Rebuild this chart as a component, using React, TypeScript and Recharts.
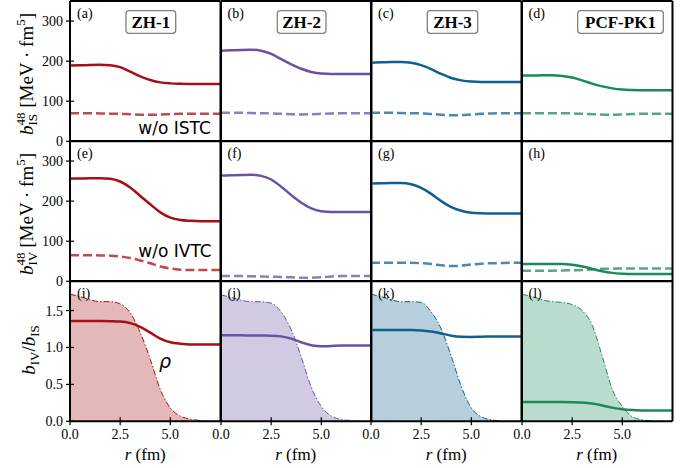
import React from 'react';
import { ComposedChart, Line, Area, XAxis, YAxis } from 'recharts';

// radial grid (fm)
const R = [0, 0.5, 1, 1.5, 2, 2.5, 3, 3.5, 4, 4.5, 5, 5.5, 6, 6.5, 7, 7.5];

// isoscalar b^48_IS (MeV fm^5): full and without ISTC
const IS_ZH1 = [189, 189.5, 190.5, 191, 190, 185, 174, 162, 153, 147, 144.5, 143.5, 143, 143, 143, 143];
const IS_ZH2 = [226, 227, 228, 228.5, 226, 218, 205, 192, 181, 173, 169, 168, 168, 168, 168, 168];
const IS_ZH3 = [196, 197, 198, 198, 196, 190, 180, 168, 158, 152, 149, 148, 148, 148, 148, 148];
const IS_PK1 = [164, 164, 164.5, 164.5, 163, 159, 152, 144, 137, 132, 129, 128, 127.5, 127.5, 127.5, 127.5];
const IS_ZH1_NOTC = [70, 70, 70, 69.5, 69, 68.5, 67.5, 66.5, 66, 66.5, 67.5, 68.5, 69, 69, 69, 69];
const IS_ZH2_NOTC = [71, 71, 71, 70.5, 70, 69.5, 68.5, 67.5, 67, 67.5, 68.5, 69.5, 70, 70, 70, 70];
const IS_ZH3_NOTC = [71, 71, 71, 70.5, 70, 69.5, 68, 66.5, 65, 65.5, 67, 68.5, 69.5, 70, 70, 70];
const IS_PK1_NOTC = [70, 70, 70, 70, 70, 69.5, 68.5, 67.5, 66.5, 66, 67, 68, 69, 69, 69, 69];

// isovector b^48_IV (MeV fm^5): full and without IVTC
const IV_ZH1 = [256, 256.5, 257, 257, 256, 249, 234, 213, 192, 172, 159, 153, 151, 150, 150, 150];
const IV_ZH2 = [264, 264.5, 265, 266, 263, 254, 236, 215, 196, 182, 175, 173, 173, 173, 173, 173];
const IV_ZH3 = [244, 244.5, 245, 245, 242, 233, 218, 200, 185, 176, 171, 169.5, 169, 169, 169, 169];
const IV_PK1 = [43, 43, 43, 43, 43, 41, 37, 31, 25, 21, 19, 18, 18, 18, 18, 18];
const IV_ZH1_NOTC = [65, 65, 65, 64.5, 64, 62, 58, 52, 45, 37, 32, 29, 28, 28, 28, 28];
const IV_ZH2_NOTC = [13, 13, 13, 12.5, 12, 11.5, 11, 10, 9, 9, 10, 12, 13, 13, 13, 13];
const IV_ZH3_NOTC = [46, 46, 46, 46, 46, 45, 43, 40, 38, 39, 42, 44, 45, 45.5, 46, 46];
const IV_PK1_NOTC = [26, 26, 26.5, 26.5, 27, 27.5, 28, 29.5, 31, 31.5, 32, 32, 32, 32, 32, 32];

// ratio b_IV / b_IS
const RATIO_ZH1 = [1.36, 1.36, 1.36, 1.358, 1.355, 1.35, 1.33, 1.28, 1.2, 1.12, 1.07, 1.05, 1.04, 1.04, 1.04, 1.04];
const RATIO_ZH2 = [1.166, 1.165, 1.164, 1.163, 1.162, 1.16, 1.15, 1.12, 1.07, 1.03, 1.015, 1.02, 1.025, 1.025, 1.025, 1.025];
const RATIO_ZH3 = [1.236, 1.236, 1.236, 1.236, 1.235, 1.23, 1.215, 1.19, 1.16, 1.145, 1.143, 1.146, 1.148, 1.15, 1.15, 1.15];
const RATIO_PK1 = [0.26, 0.26, 0.26, 0.26, 0.26, 0.258, 0.253, 0.24, 0.215, 0.185, 0.163, 0.152, 0.147, 0.145, 0.145, 0.145];

// scaled density rho
const RHO_ZH1 = [1.72, 1.69, 1.645, 1.62, 1.62, 1.59, 1.47, 1.2, 0.84, 0.43, 0.18, 0.07, 0.03, 0.01, 0, 0];
const RHO_ZH2 = [1.71, 1.68, 1.64, 1.62, 1.62, 1.6, 1.48, 1.24, 0.87, 0.46, 0.2, 0.07, 0.025, 0.01, 0, 0];
const RHO_ZH3 = [1.72, 1.69, 1.645, 1.62, 1.62, 1.61, 1.48, 1.25, 0.88, 0.47, 0.18, 0.06, 0.02, 0.005, 0, 0];
const RHO_PK1 = [1.72, 1.69, 1.645, 1.62, 1.61, 1.58, 1.5, 1.3, 0.88, 0.43, 0.2, 0.06, 0.02, 0.005, 0, 0];

const MODELS = ['ZH-1', 'ZH-2', 'ZH-3', 'PCF-PK1'];
const LETTERS = [
  ['(a)', '(b)', '(c)', '(d)'],
  ['(e)', '(f)', '(g)', '(h)'],
  ['(i)', '(j)', '(k)', '(l)'],
];
const X_TICKS = [0, 2.5, 5];
const B_TICKS = [0, 100, 200, 300];
const RATIO_TICKS = [0, 0.5, 1, 1.5];

const IS_FULL = [IS_ZH1, IS_ZH2, IS_ZH3, IS_PK1];
const IS_NOTC = [IS_ZH1_NOTC, IS_ZH2_NOTC, IS_ZH3_NOTC, IS_PK1_NOTC];
const IV_FULL = [IV_ZH1, IV_ZH2, IV_ZH3, IV_PK1];
const IV_NOTC = [IV_ZH1_NOTC, IV_ZH2_NOTC, IV_ZH3_NOTC, IV_PK1_NOTC];
const RATIO = [RATIO_ZH1, RATIO_ZH2, RATIO_ZH3, RATIO_PK1];
const RHO = [RHO_ZH1, RHO_ZH2, RHO_ZH3, RHO_PK1];

const COLORS = ['#a50f15', '#6a51a3', '#10608f', '#1b8a58'];

const PX = [70, 220.5, 371, 521.5];
const PY = [0.5, 140.8, 281.1];
const PW = 150.5;
const PH = 140.3;

const SERIF = 'Liberation Serif, Times New Roman, serif';
const SANS = 'DejaVu Sans, sans-serif';

const EPS = 0.01;

function Panel({ row, col }: { row: number; col: number }) {
  const color = COLORS[col];
  const isRatio = row === 2;
  const data = R.map((r, i) =>
    isRatio
      ? { r, a: RHO[col][i], b: RATIO[col][i] }
      : { r, a: (row === 0 ? IS_FULL : IV_FULL)[col][i], b: (row === 0 ? IS_NOTC : IV_NOTC)[col][i] }
  );
  const ml = col === 0 ? 70 : 20;
  const mr = 20;
  const mt = 12;
  const mb = row === 2 ? 46 : 12;
  const W = ml + PW + mr;
  const H = mt + PH + mb;
  const yDomain: [number, number] = isRatio ? [0, 1.9] : [0, 350];
  const yTicks = isRatio ? RATIO_TICKS : B_TICKS;
  const axisLine = { stroke: '#000', strokeWidth: 2 };
  const tickFont = { fill: '#000', fontSize: 14, fontFamily: SERIF };
  const tl = (t: string) => ({ stroke: '#000', strokeWidth: 1.2, transform: t });
  return (
    <div style={{ position: 'absolute', left: PX[col] - ml, top: PY[row] - mt }}>
      <ComposedChart width={W} height={H} data={data} margin={{ top: mt, right: mr, bottom: mb, left: ml }}>
        <XAxis
          xAxisId="b"
          dataKey="r"
          type="number"
          domain={[0, 7.5]}
          allowDataOverflow
          ticks={X_TICKS}
          interval={0}
          orientation="bottom"
          height={EPS}
          tickSize={8}
          tickMargin={0}
          tickLine={tl('translate(0,-4)')}
          axisLine={axisLine}
          tick={isRatio ? tickFont : false}
          tickFormatter={(v: number) => v.toFixed(1)}
        />
        <XAxis
          xAxisId="t"
          dataKey="r"
          type="number"
          domain={[0, 7.5]}
          allowDataOverflow
          ticks={X_TICKS}
          interval={0}
          orientation="top"
          height={EPS}
          tickSize={8}
          tickLine={tl('translate(0,4)')}
          axisLine={axisLine}
          tick={false}
        />
        <YAxis
          yAxisId="l"
          type="number"
          domain={yDomain}
          allowDataOverflow
          ticks={yTicks}
          interval={0}
          orientation="left"
          width={EPS}
          tickSize={8}
          tickMargin={-1}
          tickLine={tl('translate(4,0)')}
          axisLine={axisLine}
          tick={col === 0 ? tickFont : false}
          tickFormatter={(v: number) => (isRatio ? v.toFixed(1) : String(v))}
        />
        <YAxis
          yAxisId="r"
          type="number"
          domain={yDomain}
          allowDataOverflow
          ticks={yTicks}
          interval={0}
          orientation="right"
          width={EPS}
          tickSize={8}
          tickLine={tl('translate(-4,0)')}
          axisLine={axisLine}
          tick={false}
        />
        {isRatio ? (
          <Area
            xAxisId="b"
            yAxisId="l"
            dataKey="a"
            type="monotone"
            stroke={color}
            strokeWidth={1}
            strokeDasharray="6 2 1.5 2"
            fill={color}
            fillOpacity={0.3}
            baseValue={0}
            isAnimationActive={false}
            dot={false}
            activeDot={false}
          />
        ) : (
          <Line
            xAxisId="b"
            yAxisId="l"
            dataKey="a"
            type="monotone"
            stroke={color}
            strokeWidth={2.5}
            dot={false}
            activeDot={false}
            isAnimationActive={false}
          />
        )}
        <Line
          xAxisId="t"
          yAxisId="r"
          dataKey="b"
          type="monotone"
          stroke={color}
          strokeWidth={2.5}
          strokeOpacity={isRatio ? 1 : 0.75}
          strokeDasharray={isRatio ? undefined : '9 4'}
          dot={false}
          activeDot={false}
          isAnimationActive={false}
        />
      </ComposedChart>
    </div>
  );
}

const BOXES = [
  { x: 126, w: 49.7 },
  { x: 277.3, w: 48.7 },
  { x: 427.3, w: 50.4 },
  { x: 577.7, w: 85.6 },
];

function Overlay() {
  return (
    <svg
      width={697}
      height={468}
      style={{ position: 'absolute', left: 0, top: 0, pointerEvents: 'none' }}
    >
      {/* y-axis titles */}
      <text transform="translate(33,74) rotate(-90)" textAnchor="middle" fontFamily={SERIF} fontSize={19} fill="#000">
        <tspan fontStyle="italic">b</tspan>
        <tspan fontSize={13} dy={4}>IS</tspan>
        <tspan fontSize={13} dx={-11.6} dy={-12}>48</tspan>
        <tspan dy={8}> [MeV · fm</tspan>
        <tspan fontSize={13} dy={-8}>5</tspan>
        <tspan dy={8}>]</tspan>
      </text>
      <text transform="translate(33,214) rotate(-90)" textAnchor="middle" fontFamily={SERIF} fontSize={19} fill="#000">
        <tspan fontStyle="italic">b</tspan>
        <tspan fontSize={13} dy={4}>IV</tspan>
        <tspan fontSize={13} dx={-13.7} dy={-12}>48</tspan>
        <tspan dy={8}> [MeV · fm</tspan>
        <tspan fontSize={13} dy={-8}>5</tspan>
        <tspan dy={8}>]</tspan>
      </text>
      <text transform="translate(35,350) rotate(-90)" textAnchor="middle" fontFamily={SERIF} fontSize={19} fill="#000">
        <tspan fontStyle="italic">b</tspan>
        <tspan fontSize={13} dy={4}>IV</tspan>
        <tspan dy={-4}>/</tspan>
        <tspan fontStyle="italic">b</tspan>
        <tspan fontSize={13} dy={4}>IS</tspan>
      </text>

      {/* panel letters */}
      {LETTERS.map((rowL, ri) =>
        rowL.map((l, ci) => (
          <text key={l} x={PX[ci] + 7} y={PY[ri] + 17} fontFamily={SERIF} fontSize={14} fill="#000">
            {l}
          </text>
        ))
      )}

      {/* model boxes */}
      {MODELS.map((m, i) => (
        <g key={m}>
          <rect x={BOXES[i].x} y={10.7} width={BOXES[i].w} height={22.6} rx={3} ry={3} fill="#fff" stroke="#808080" strokeWidth={1.3} />
          <text x={BOXES[i].x + BOXES[i].w / 2} y={28} textAnchor="middle" fontFamily={SERIF} fontWeight="bold" fontSize={17} fill="#000">
            {m}
          </text>
        </g>
      ))}

      <text x={138.3} y={134} fontFamily={SANS} fontSize={17} fill="#000">w/o ISTC</text>
      <text x={138.3} y={256.5} fontFamily={SANS} fontSize={17} fill="#000">w/o IVTC</text>
      <text x={159} y={368} fontFamily={SANS} fontStyle="italic" fontSize={19} fill="#000">ρ</text>

      {PX.map((x, i) => (
        <text key={i} x={x + PW / 2} y={460} textAnchor="middle" fontFamily={SERIF} fontSize={17} fill="#000">
          <tspan fontStyle="italic">r</tspan> (fm)
        </text>
      ))}
    </svg>
  );
}

export default function App() {
  return (
    <div style={{ position: 'absolute', left: 0, top: 0, width: 697, height: 468, background: '#fff', overflow: 'hidden' }}>
      {[0, 1, 2].map((row) => [0, 1, 2, 3].map((col) => <Panel key={`${row}-${col}`} row={row} col={col} />))}
      <Overlay />
    </div>
  );
}
